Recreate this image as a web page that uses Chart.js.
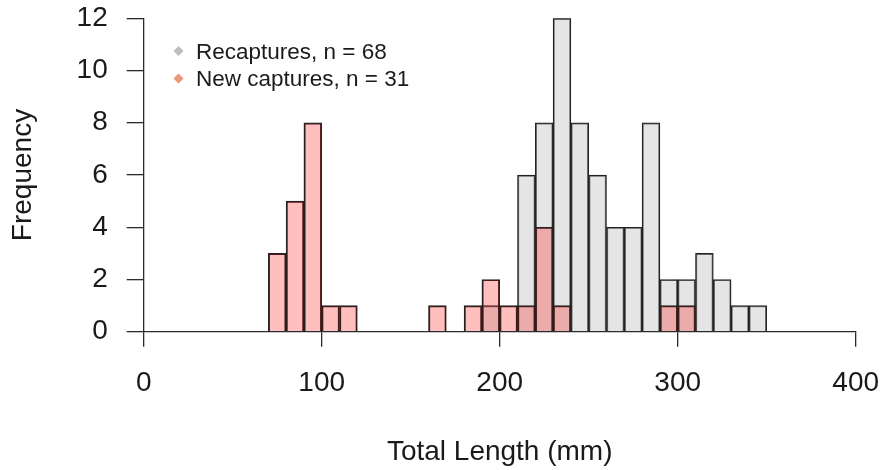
<!DOCTYPE html>
<html>
<head>
<meta charset="utf-8">
<script src="https://cdn.jsdelivr.net/npm/chart.js@4.4.1/dist/chart.umd.min.js"></script>
<style>
  html, body { margin: 0; padding: 0; background: #ffffff; }
  #wrap { position: relative; width: 881px; height: 470px; }
</style>
</head>
<body>
<div id="wrap"><canvas id="c"></canvas></div>
<script>
// ---- data ----
const binWidth = 10;
const binStarts = [70, 80, 90, 100, 110, 120, 130, 140, 150, 160, 170, 180, 190, 200,
                   210, 220, 230, 240, 250, 260, 270, 280, 290, 300, 310, 320, 330, 340];
const recaptures = [0, 0, 0, 0, 0, 0, 0, 0, 0, 0, 0, 0, 1, 0,
                    6, 8, 12, 8, 6, 4, 4, 8, 2, 2, 3, 2, 1, 1];
const newCaptures = [3, 5, 8, 1, 1, 0, 0, 0, 0, 1, 0, 1, 2, 1,
                     1, 4, 1, 0, 0, 0, 0, 0, 1, 1, 0, 0, 0, 0];
const seriesNames = ['Recaptures, n = 68', 'New captures, n = 31'];
const xTicks = [0, 100, 200, 300, 400];
const yTicks = [0, 2, 4, 6, 8, 10, 12];
const xTitle = 'Total Length (mm)';
const yTitle = 'Frequency';

// ---- styles ----
const FONT = "'Liberation Sans', Arial, sans-serif";
const INK = '#1a1a1a';
const AXIS = '#2b2b2b';
const fillGray = 'rgba(204,204,204,0.5)';
const fillPink = 'rgba(255,0,0,0.25)';
const legendColors = ['#bebebe', '#e9967a'];

function toPoints(counts) {
  return binStarts.map((s, i) => ({ x: s + binWidth / 2, y: counts[i] === 0 ? null : counts[i] }));
}

const legendPlugin = {
  id: 'rLegend',
  afterDraw(chart) {
    const ctx = chart.ctx;
    ctx.save();
    const x0 = 178.5, y0 = 51, dy = 27.5, r = 5;
    ctx.font = '22.5px ' + FONT;
    ctx.textBaseline = 'middle';
    ctx.textAlign = 'left';
    seriesNames.forEach((name, i) => {
      const cy = y0 + i * dy;
      ctx.fillStyle = legendColors[i];
      ctx.beginPath();
      ctx.moveTo(x0, cy - r);
      ctx.lineTo(x0 + r, cy);
      ctx.lineTo(x0, cy + r);
      ctx.lineTo(x0 - r, cy);
      ctx.closePath();
      ctx.fill();
      ctx.fillStyle = INK;
      ctx.fillText(name, 196, cy + 1.5);
    });
    ctx.restore();
  }
};

Chart.defaults.font.family = FONT;
Chart.defaults.color = INK;

new Chart(document.getElementById('c'), {
  type: 'bar',
  data: {
    datasets: [
      {
        label: seriesNames[0],
        data: toPoints(recaptures),
        backgroundColor: fillGray,
        borderColor: '#222',
        borderWidth: 1.3,
        grouped: false,
        order: 2
      },
      {
        label: seriesNames[1],
        data: toPoints(newCaptures),
        backgroundColor: fillPink,
        borderColor: '#222',
        borderWidth: 1.3,
        grouped: false,
        order: 1
      }
    ]
  },
  options: {
    responsive: true,
    maintainAspectRatio: false,
    animation: false,
    events: [],
    layout: { padding: { top: 18.3, right: 25.3, left: 0, bottom: 0 } },
    datasets: { bar: { barPercentage: 1, categoryPercentage: 1 } },
    plugins: { legend: { display: false }, tooltip: { enabled: false } },
    scales: {
      x: {
        type: 'linear',
        offset: false,
        min: 0,
        max: 400,
        afterBuildTicks(scale) { scale.ticks = xTicks.map(v => ({ value: v })); },
        ticks: { font: { size: 28 }, color: INK, padding: 19.5, maxRotation: 0 },
        grid: { display: true, offset: false, drawOnChartArea: false, drawTicks: true, tickLength: 15, color: AXIS, lineWidth: 1.3 },
        border: { display: true, color: AXIS, width: 1.3 },
        title: { display: true, text: xTitle, font: { size: 28 }, color: INK, padding: { top: 0, bottom: 1.2 } },
        afterFit(scale) { scale.height = 138.3; scale.paddingLeft = 0; scale.paddingRight = 0; }
      },
      y: {
        type: 'linear',
        min: 0,
        max: 12,
        afterBuildTicks(scale) { scale.ticks = yTicks.map(v => ({ value: v })); },
        ticks: { font: { size: 28 }, color: INK, padding: 19 },
        grid: { display: true, drawOnChartArea: false, drawTicks: true, tickLength: 17, color: AXIS, lineWidth: 1.3 },
        border: { display: true, color: AXIS, width: 1.3 },
        title: { display: true, text: yTitle, font: { size: 28 }, color: INK, padding: { top: 6.8, bottom: 0 } },
        afterFit(scale) { scale.width = 143.7; scale.paddingTop = 0; scale.paddingBottom = 0; }
      }
    }
  },
  plugins: [legendPlugin]
});
</script>
</body>
</html>
